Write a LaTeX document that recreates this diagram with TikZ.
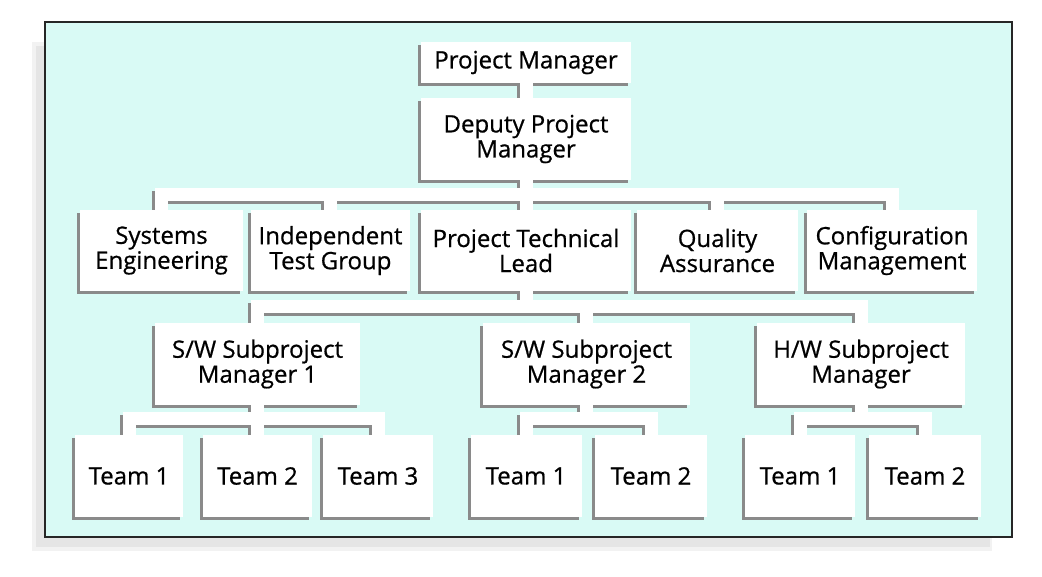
\documentclass[tikz,border=0pt]{standalone}
\usepackage{fontspec}
\newfontfamily\orgfont{Open Sans}[FakeBold=0.7]
\usetikzlibrary{shadows}

\definecolor{panel}{RGB}{217,250,245}
\definecolor{shadegray}{RGB}{138,138,138}

\pgfdeclarelayer{back}
\pgfdeclarelayer{shade}
\pgfsetlayers{back,shade,main}

\tikzset{
  unit/.style={fill=white, align=center, inner sep=0pt,
    font=\orgfont\fontsize{24}{25}\selectfont,
    drop shadow={shadow xshift=-3pt, shadow yshift=-3pt, fill=shadegray, opacity=1}},
  linkband/.style={draw=white, line width=13pt},
  linkshade/.style={draw=shadegray, line width=13pt,
    transform canvas={shift={(-3pt,-3pt)}}}
}

% a connector: grey shade underneath, white band on top
\newcommand{\orglink}[1]{%
  \begin{pgfonlayer}{shade}\draw[linkshade] #1;\end{pgfonlayer}
  \draw[linkband] #1;}

\begin{document}
\begin{tikzpicture}[x=1pt,y=-1pt]

\useasboundingbox (0,0) rectangle (1042,576);

% panel and its shadow
\begin{pgfonlayer}{back}
\fill[black!5] (32,42) rectangle (992,551);
\fill[black!10] (36,46) rectangle (990,547);
\draw[line width=1.5pt, draw=black!85, fill=panel] (45,22) rectangle (1012,537);
\end{pgfonlayer}

% top
\node[unit, minimum width=210pt, minimum height=41pt] (pm) at (526,62.5) {Project Manager};
\node[unit, minimum width=210pt, minimum height=82pt] (dpm) at (526,139) {Deputy Project\\Manager};

% second row
\node[unit, minimum width=163pt, minimum height=81pt] (se) at (161.5,250.5) {Systems\\Engineering};
\node[unit, minimum width=159pt, minimum height=81pt] (itg) at (330.5,250.5) {Independent\\Test Group};
\node[unit, minimum width=210pt, minimum height=81pt] (ptl) at (526,250.5) {Project Technical\\Lead};
\node[unit, minimum width=161pt, minimum height=81pt] (qa) at (717.5,250.5) {Quality\\Assurance};
\node[unit, minimum width=170pt, minimum height=81pt] (cm) at (892,250.5) {Configuration\\Management};

% subprojects
\node[unit, minimum width=205pt, minimum height=82pt] (spm1) at (257.5,364) {S/W Subproject\\Manager 1};
\node[unit, minimum width=207pt, minimum height=82pt] (spm2) at (586.5,364) {S/W Subproject\\Manager 2};
\node[unit, minimum width=208pt, minimum height=82pt] (hw) at (861,364) {H/W Subproject\\Manager};

% teams
\node[unit, minimum width=108pt, minimum height=82pt] (t11) at (129,476) {Team 1};
\node[unit, minimum width=109pt, minimum height=82pt] (t12) at (257.5,476) {Team 2};
\node[unit, minimum width=110pt, minimum height=82pt] (t13) at (378,476) {Team 3};
\node[unit, minimum width=111pt, minimum height=82pt] (t21) at (526,476) {Team 1};
\node[unit, minimum width=112pt, minimum height=82pt] (t22) at (651,476) {Team 2};
\node[unit, minimum width=110pt, minimum height=82pt] (t31) at (800,476) {Team 1};
\node[unit, minimum width=112pt, minimum height=82pt] (t32) at (925,476) {Team 2};

\coordinate (bus1) at (526,194.5);
\coordinate (bus2) at (526,306.5);
\coordinate (bus3a) at (257.5,418.5);
\coordinate (bus3b) at (586.5,418.5);
\coordinate (bus3c) at (861,418.5);

\orglink{(pm.south) -- (dpm.north)}
\orglink{(dpm.south) -- (ptl.north)}
\foreach \n in {se,itg,qa,cm}
  {\orglink{(dpm.south) -- (bus1) -| (\n.north)}}
\foreach \n in {spm1,spm2,hw}
  {\orglink{(ptl.south) -- (bus2) -| (\n.north)}}
\orglink{(spm1.south) -- (t12.north)}
\foreach \n in {t11,t13}
  {\orglink{(spm1.south) -- (bus3a) -| (\n.north)}}
\foreach \n in {t21,t22}
  {\orglink{(spm2.south) -- (bus3b) -| (\n.north)}}
\foreach \n in {t31,t32}
  {\orglink{(hw.south) -- (bus3c) -| (\n.north)}}

\end{tikzpicture}
\end{document}
